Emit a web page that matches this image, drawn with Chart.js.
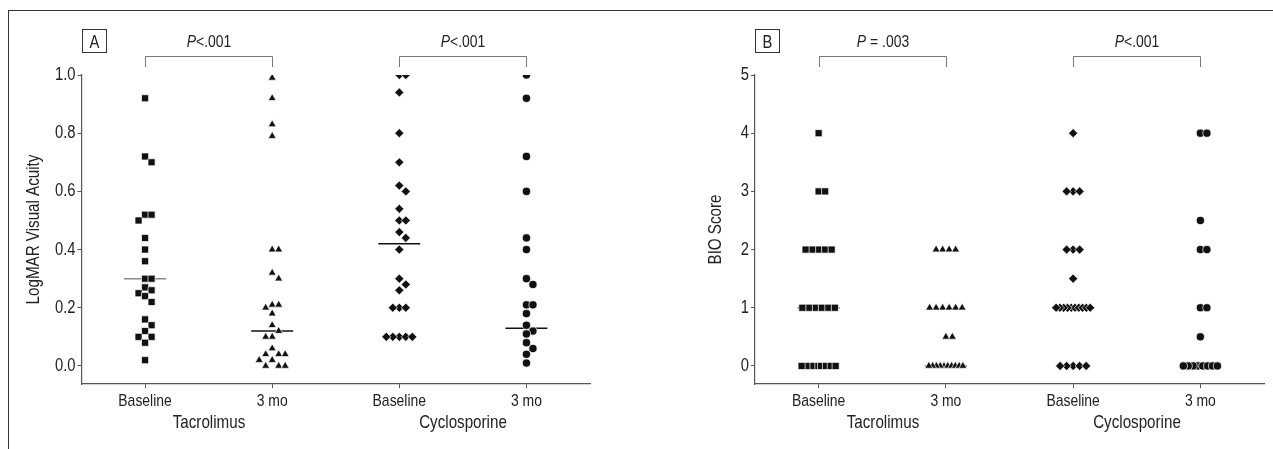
<!DOCTYPE html>
<html>
<head>
<meta charset="utf-8">
<script src="https://cdn.jsdelivr.net/npm/chart.js@4.4.0/dist/chart.umd.min.js"></script>
<style>
  body { margin: 0; background: #fff; }
  #fig { position: relative; width: 1273px; height: 449px; overflow: hidden; }
  #frame { position: absolute; left: 8px; top: 10px; right: -2px; bottom: -2px;
           border-top: 1px solid #333; border-left: 1px solid #333; }
  canvas { position: absolute; top: 0; }
</style>
</head>
<body>
<div id="fig">
  <div id="frame"></div>
  <canvas id="chartA" width="636" height="449" style="left:0"></canvas>
  <canvas id="chartB" width="637" height="449" style="left:636px"></canvas>
</div>
<script>
const FONT = '"Liberation Sans", Arial, sans-serif';
const NARROW = 0.82; // squeeze text to look like a narrow face

const groupNames = ["Tacrolimus", "Cyclosporine"];
const timeLabels = ["Baseline", "3 mo", "Baseline", "3 mo"];

// Panel A - LogMAR visual acuity
const acuityTicks = [0, 0.2, 0.4, 0.6, 0.8, 1.0];
const acuityTacBase = [0.92, 0.72, 0.70, 0.52, 0.52, 0.50, 0.44, 0.40, 0.36, 0.30, 0.30,
  0.27, 0.26, 0.25, 0.24, 0.22, 0.16, 0.14, 0.12, 0.10, 0.10, 0.08, 0.02];
const acuityTac3mo = [0.99, 0.92, 0.83, 0.79, 0.40, 0.40, 0.32, 0.30, 0.21, 0.21, 0.20, 0.18,
  0.14, 0.12, 0.10, 0.10, 0.06, 0.04, 0.04, 0.04, 0.02, 0.02, 0.00, 0.00, 0.00];
const acuityCycBase = [1.00, 1.00, 0.94, 0.80, 0.70, 0.62, 0.60, 0.54, 0.50, 0.50, 0.46, 0.44,
  0.40, 0.30, 0.28, 0.26, 0.20, 0.20, 0.20, 0.10, 0.10, 0.10, 0.10, 0.10];
const acuityCyc3mo = [1.00, 0.92, 0.72, 0.60, 0.44, 0.40, 0.30, 0.28, 0.21, 0.21, 0.18, 0.14,
  0.12, 0.11, 0.08, 0.06, 0.04, 0.01];
const acuityMedians = [0.30, 0.12, 0.42, 0.13];
const acuityPValues = ["<.001", "<.001"];

// Panel B - BIO score
const bioTicks = [0, 1, 2, 3, 4, 5];
const bioTacBase = [4, 3, 3, 2, 2, 2, 2, 2, 1, 1, 1, 1, 1, 1, 0, 0, 0, 0, 0, 0, 0, 0];
const bioTac3mo = [2, 2, 2, 2, 1, 1, 1, 1, 1, 1, 0.5, 0.5, 0, 0, 0, 0, 0, 0, 0, 0, 0, 0];
const bioCycBase = [4, 3, 3, 3, 2, 2, 2, 1.5, 1, 1, 1, 1, 1, 1, 1, 1, 1, 1, 0, 0, 0, 0, 0];
const bioCyc3mo = [4, 4, 2.5, 2, 2, 1, 1, 0.5, 0, 0, 0, 0, 0, 0, 0, 0];
const bioMedians = [1, 0, 1, 0];
const bioPValues = [" = .003", "<.001"];

// dot spreading (pixels), like a prism scatter dot plot
const STEP = 6.5, MARK = 6.5, MAX_SPAN = 34, X_PX = 127;

function swarm(values, yPx) {
  const order = values.map((v, i) => ({ v, i })).sort((a, b) => b.v - a.v);
  const placed = [];
  const offs = new Array(values.length);
  order.forEach(p => {
    for (let k = 0; ; k = k > 0 ? -k : 1 - k) {
      const dx = k * STEP;
      const hit = placed.some(q => Math.abs(q.y - p.v) * yPx < MARK && Math.abs(q.dx - dx) < MARK - 0.5);
      if (!hit) {
        placed.push({ y: p.v, dx });
        offs[p.i] = dx;
        break;
      }
    }
  });
  // squeeze long rows of tied values
  const rows = {};
  values.forEach((v, i) => (rows[v] = rows[v] || []).push(i));
  Object.values(rows).forEach(idx => {
    if (idx.length < 4) return;
    const ds = idx.map(i => offs[i]);
    const lo = Math.min(...ds), hi = Math.max(...ds), mid = (lo + hi) / 2;
    const f = Math.min(1, MAX_SPAN / (hi - lo));
    idx.forEach(i => { offs[i] = (offs[i] - mid) * f; });
  });
  return offs.map(d => d / X_PX);
}

// condensed text on a canvas: every label goes through fillText/measureText
function narrowText(canvas) {
  const ctx = canvas.getContext("2d");
  const fill = ctx.fillText.bind(ctx);
  const measure = ctx.measureText.bind(ctx);
  ctx.fillText = (text, x, y) => {
    ctx.save();
    ctx.translate(x, y);
    ctx.scale(NARROW, 1);
    fill(text, 0, 0);
    ctx.restore();
  };
  ctx.measureText = (text) => {
    const m = measure(text);
    return {
      width: m.width * NARROW,
      actualBoundingBoxAscent: m.actualBoundingBoxAscent,
      actualBoundingBoxDescent: m.actualBoundingBoxDescent,
      actualBoundingBoxLeft: m.actualBoundingBoxLeft * NARROW,
      actualBoundingBoxRight: m.actualBoundingBoxRight * NARROW,
    };
  };
  return canvas;
}

function pointSet(values, group, style, radius, yPx) {
  const offs = swarm(values, yPx);
  return {
    type: "scatter",
    data: values.map((v, i) => ({ x: group + 1 + offs[i], y: v })),
    pointStyle: style,
    pointRadius: radius,
    pointHoverRadius: radius,
    backgroundColor: "#111",
    borderColor: "#fff",
    borderWidth: 0.7,
    order: 1,
  };
}

function medianSet(m, group, color) {
  return {
    type: "line",
    data: [{ x: group + 1 - 0.165, y: m }, { x: group + 1 + 0.165, y: m }],
    borderColor: color,
    borderWidth: 1.5,
    pointRadius: 0,
    order: 2,
  };
}

function annotations(cfg) {
  return {
    id: "annotate" + cfg.letter,
    afterDraw(chart) {
      const { ctx, chartArea, scales: { x } } = chart;
      ctx.save();
      // panel letter
      const bx = Math.round(chartArea.left) + 0.5;
      ctx.strokeStyle = "#333";
      ctx.lineWidth = 1;
      ctx.strokeRect(bx, 29.5, 24, 23);
      ctx.fillStyle = "#222";
      ctx.font = "18px " + FONT;
      ctx.textAlign = "center";
      ctx.textBaseline = "alphabetic";
      ctx.fillText(cfg.letter, bx + 12, 48);

      cfg.pValues.forEach((p, g) => {
        const x1 = Math.round(x.getPixelForValue(2 * g + 1)) + 0.5;
        const x2 = Math.round(x.getPixelForValue(2 * g + 2)) + 0.5;
        const top = chartArea.top - 18.5, foot = chartArea.top - 8;
        ctx.strokeStyle = "#777";
        ctx.beginPath();
        ctx.moveTo(x1, foot);
        ctx.lineTo(x1, top);
        ctx.lineTo(x2, top);
        ctx.lineTo(x2, foot);
        ctx.stroke();

        const mid = (x1 + x2) / 2, base = chartArea.top - 28;
        ctx.font = "italic 17px " + FONT;
        const wP = ctx.measureText("P").width;
        ctx.font = "17px " + FONT;
        const wR = ctx.measureText(p).width;
        const start = mid - (wP + wR) / 2;
        ctx.textAlign = "left";
        ctx.font = "italic 17px " + FONT;
        ctx.fillText("P", start, base);
        ctx.font = "17px " + FONT;
        ctx.fillText(p, start + wP, base);

        ctx.textAlign = "center";
        ctx.font = "18.5px " + FONT;
        ctx.fillText(groupNames[g], mid, 428);
      });
      ctx.restore();
    },
  };
}

function makePanel(id, cfg) {
  const axisColor = "#555";
  return new Chart(narrowText(document.getElementById(id)), {
    data: {
      datasets: [
        pointSet(cfg.series[0], 0, "rect", 5, cfg.yPx),
        pointSet(cfg.series[1], 1, "triangle", 4.6, cfg.yPx),
        pointSet(cfg.series[2], 2, "rectRot", 4.6, cfg.yPx),
        pointSet(cfg.series[3], 3, "circle", 4.1, cfg.yPx),
        ...cfg.medians.map((m, g) => medianSet(m, g, cfg.medianColors[g])),
      ],
    },
    options: {
      responsive: false,
      animation: false,
      events: [],
      layout: { padding: { top: 75, right: cfg.padRight, bottom: 0, left: 0 } },
      plugins: { legend: { display: false }, tooltip: { enabled: false } },
      scales: {
        x: {
          type: "linear",
          min: 0.5,
          max: 4.5,
          afterBuildTicks: (s) => { s.ticks = timeLabels.map((_, i) => ({ value: i + 1 })); },
          afterFit: (s) => { s.height = 65; },
          ticks: {
            callback: (v) => timeLabels[v - 1],
            color: "#222",
            font: { family: FONT, size: 17 },
            padding: 3,
            maxRotation: 0,
            autoSkip: false,
          },
          grid: { drawOnChartArea: false, tickLength: 4, color: axisColor },
          border: { color: axisColor, width: 1.2 },
        },
        y: {
          min: cfg.yMin,
          max: cfg.yMax,
          afterBuildTicks: (s) => { s.ticks = cfg.ticks.map((v) => ({ value: v })); },
          afterFit: (s) => { s.width = cfg.axisLeft; },
          ticks: {
            callback: cfg.fmt,
            color: "#222",
            font: { family: FONT, size: 18 },
            padding: 2,
          },
          grid: { drawOnChartArea: false, tickLength: 4, color: axisColor },
          border: { color: axisColor, width: 1.2 },
          title: {
            display: true,
            text: cfg.title,
            color: "#222",
            font: { family: FONT, size: 18.5 },
            padding: { top: cfg.titlePad, bottom: 0 },
          },
        },
      },
    },
    plugins: [annotations(cfg)],
  });
}

makePanel("chartA", {
  letter: "A",
  title: "LogMAR Visual Acuity",
  series: [acuityTacBase, acuityTac3mo, acuityCycBase, acuityCyc3mo],
  medians: acuityMedians,
  medianColors: ["#8a8a8a", "#111", "#111", "#111"],
  pValues: acuityPValues,
  ticks: acuityTicks,
  fmt: (v) => v.toFixed(1),
  yMin: -0.062,
  yMax: 1.0,
  yPx: 291,
  axisLeft: 81.5,
  padRight: 46,
  titlePad: 23,
});

makePanel("chartB", {
  letter: "B",
  title: "BIO Score",
  series: [bioTacBase, bioTac3mo, bioCycBase, bioCyc3mo],
  medians: bioMedians,
  medianColors: ["#555", "#777", "#777", "#777"],
  pValues: bioPValues,
  ticks: bioTicks,
  fmt: (v) => String(v),
  yMin: -0.31,
  yMax: 5,
  yPx: 58.2,
  axisLeft: 119,
  padRight: 9,
  titlePad: 69,
});
</script>
</body>
</html>
